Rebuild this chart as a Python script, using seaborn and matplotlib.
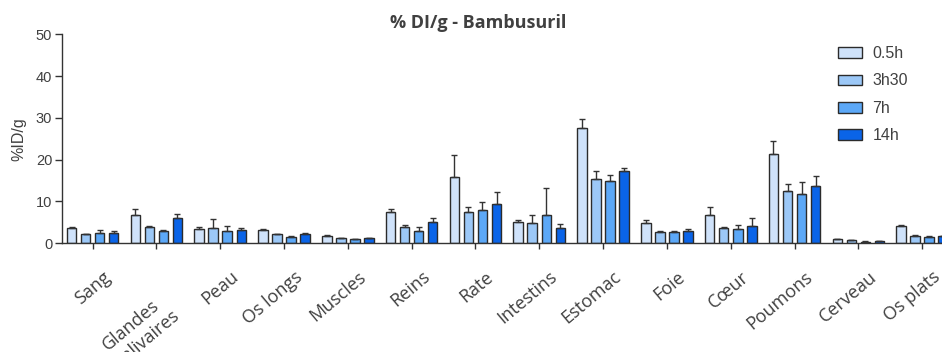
import numpy as np
import pandas as pd
import matplotlib
matplotlib.use("Agg")
import matplotlib.pyplot as plt
import matplotlib.transforms as mtrans
import seaborn as sns

# Données (%ID/g, moyenne + écart-type)
organes = ['Sang', 'Glandes\nsalivaires', 'Peau', 'Os longs', 'Muscles', 'Reins', 'Rate',
           'Intestins', 'Estomac', 'Foie', 'Cœur', 'Poumons', 'Cerveau', 'Os plats']
temps = ['0.5h', '3h30', '7h', '14h']

moy_05h = [3.6, 6.8, 3.3, 3.1, 1.8, 7.4, 15.9, 5.1, 27.5, 4.8, 6.8, 21.4, 0.95, 4.1]
moy_3h30 = [2.1, 4.0, 3.6, 2.1, 1.2, 4.0, 7.6, 4.8, 15.5, 2.7, 3.7, 12.6, 0.7, 1.8]
moy_7h = [2.5, 3.0, 2.9, 1.6, 0.95, 3.0, 7.9, 6.8, 15.0, 2.8, 3.3, 11.8, 0.4, 1.6]
moy_14h = [2.5, 6.1, 3.1, 2.3, 1.2, 5.1, 9.5, 3.6, 17.3, 3.0, 4.1, 13.7, 0.6, 1.75]

sd_05h = [0.3, 1.4, 0.7, 0.2, 0.1, 0.7, 5.2, 0.4, 2.3, 0.8, 1.9, 3.0, 0.1, 0.25]
sd_3h30 = [0.15, 0.15, 2.1, 0.15, 0.1, 0.25, 1.1, 1.9, 1.9, 0.15, 0.15, 1.6, 0.05, 0.15]
sd_7h = [0.6, 0.1, 1.2, 0.1, 0.1, 0.8, 1.9, 6.4, 1.4, 0.15, 1.0, 2.8, 0.05, 0.1]
sd_14h = [0.4, 0.8, 0.6, 0.15, 0.1, 0.9, 2.8, 0.9, 0.8, 0.5, 1.9, 2.5, 0.05, 0.1]

couleurs = ['#cfe2fa', '#9cc8f7', '#5ca8f7', '#0a64e8']

moyennes = [moy_05h, moy_3h30, moy_7h, moy_14h]
ecarts = [sd_05h, sd_3h30, sd_7h, sd_14h]

df = pd.DataFrame({
    'organe': organes * len(temps),
    'temps': np.repeat(temps, len(organes)),
    'valeur': np.concatenate(moyennes),
})

sns.set_style("ticks")
plt.rcParams['font.family'] = ['Liberation Sans', 'DejaVu Sans']

fig = plt.figure(figsize=(9.42, 3.52), dpi=100)
ax = fig.add_axes([0.0658, 0.309, 0.947, 0.593])

sns.barplot(data=df, x='organe', y='valeur', hue='temps', hue_order=temps,
            palette=couleurs, saturation=1, width=0.88, gap=0.32, errorbar=None,
            edgecolor='#2b2b2b', linewidth=1.0, ax=ax)

# barres d'erreur (seulement vers le haut)
for cont, sd in zip(ax.containers, ecarts):
    xs = [b.get_x() + b.get_width() / 2 for b in cont]
    ys = [b.get_height() for b in cont]
    ax.errorbar(xs, ys, yerr=[np.zeros(len(sd)), sd], fmt='none',
                ecolor='#333333', elinewidth=1.0, capsize=2, capthick=1.0, zorder=3)

ax.set_xlim(-0.48, 13.5)
ax.set_ylim(0, 50)
ax.set_yticks([0, 10, 20, 30, 40, 50])
ax.set_xlabel('')
ax.set_ylabel('%ID/g', fontsize=11.5, color='#404040', labelpad=7)
sns.despine(ax=ax)
for s in ['left', 'bottom']:
    ax.spines[s].set_color('#333333')
    ax.spines[s].set_linewidth(1.0)
ax.tick_params(axis='y', length=5, width=1.0, color='#333333', labelsize=10.5,
               labelcolor='#404040', pad=2)
ax.tick_params(axis='x', length=4, width=1.0, color='#333333')

ax.set_xticks(range(len(organes)))
ax.set_xticklabels(organes, rotation=40, ha='right', rotation_mode='anchor',
                   fontsize=13, color='#404040', family=['Open Sans', 'DejaVu Sans'],
                   multialignment='left')
for i, lab in enumerate(ax.get_xticklabels()):
    dx, dy = (1, -37) if '\n' in organes[i] else (10, -14)
    lab.set_transform(lab.get_transform() +
                      mtrans.ScaledTranslation(dx / 100, dy / 100, fig.dpi_scale_trans))

sns.move_legend(ax, 'upper left', bbox_to_anchor=(838 / 942, 1 - 46 / 352),
                bbox_transform=fig.transFigure, title=None, frameon=False,
                fontsize=11.5, handlelength=1.5, handleheight=0.65,
                labelspacing=0.78, handletextpad=0.65, borderpad=0, borderaxespad=0)
for t in ax.get_legend().get_texts():
    t.set_color('#404040')

fig.text(478 / 942, 1 - 23 / 352, '% DI/g - Bambusuril', ha='center', va='center',
         fontsize=13, fontweight='bold', color='#404040',
         family=['Open Sans', 'DejaVu Sans'])

fig.savefig('out.png', dpi=100)
